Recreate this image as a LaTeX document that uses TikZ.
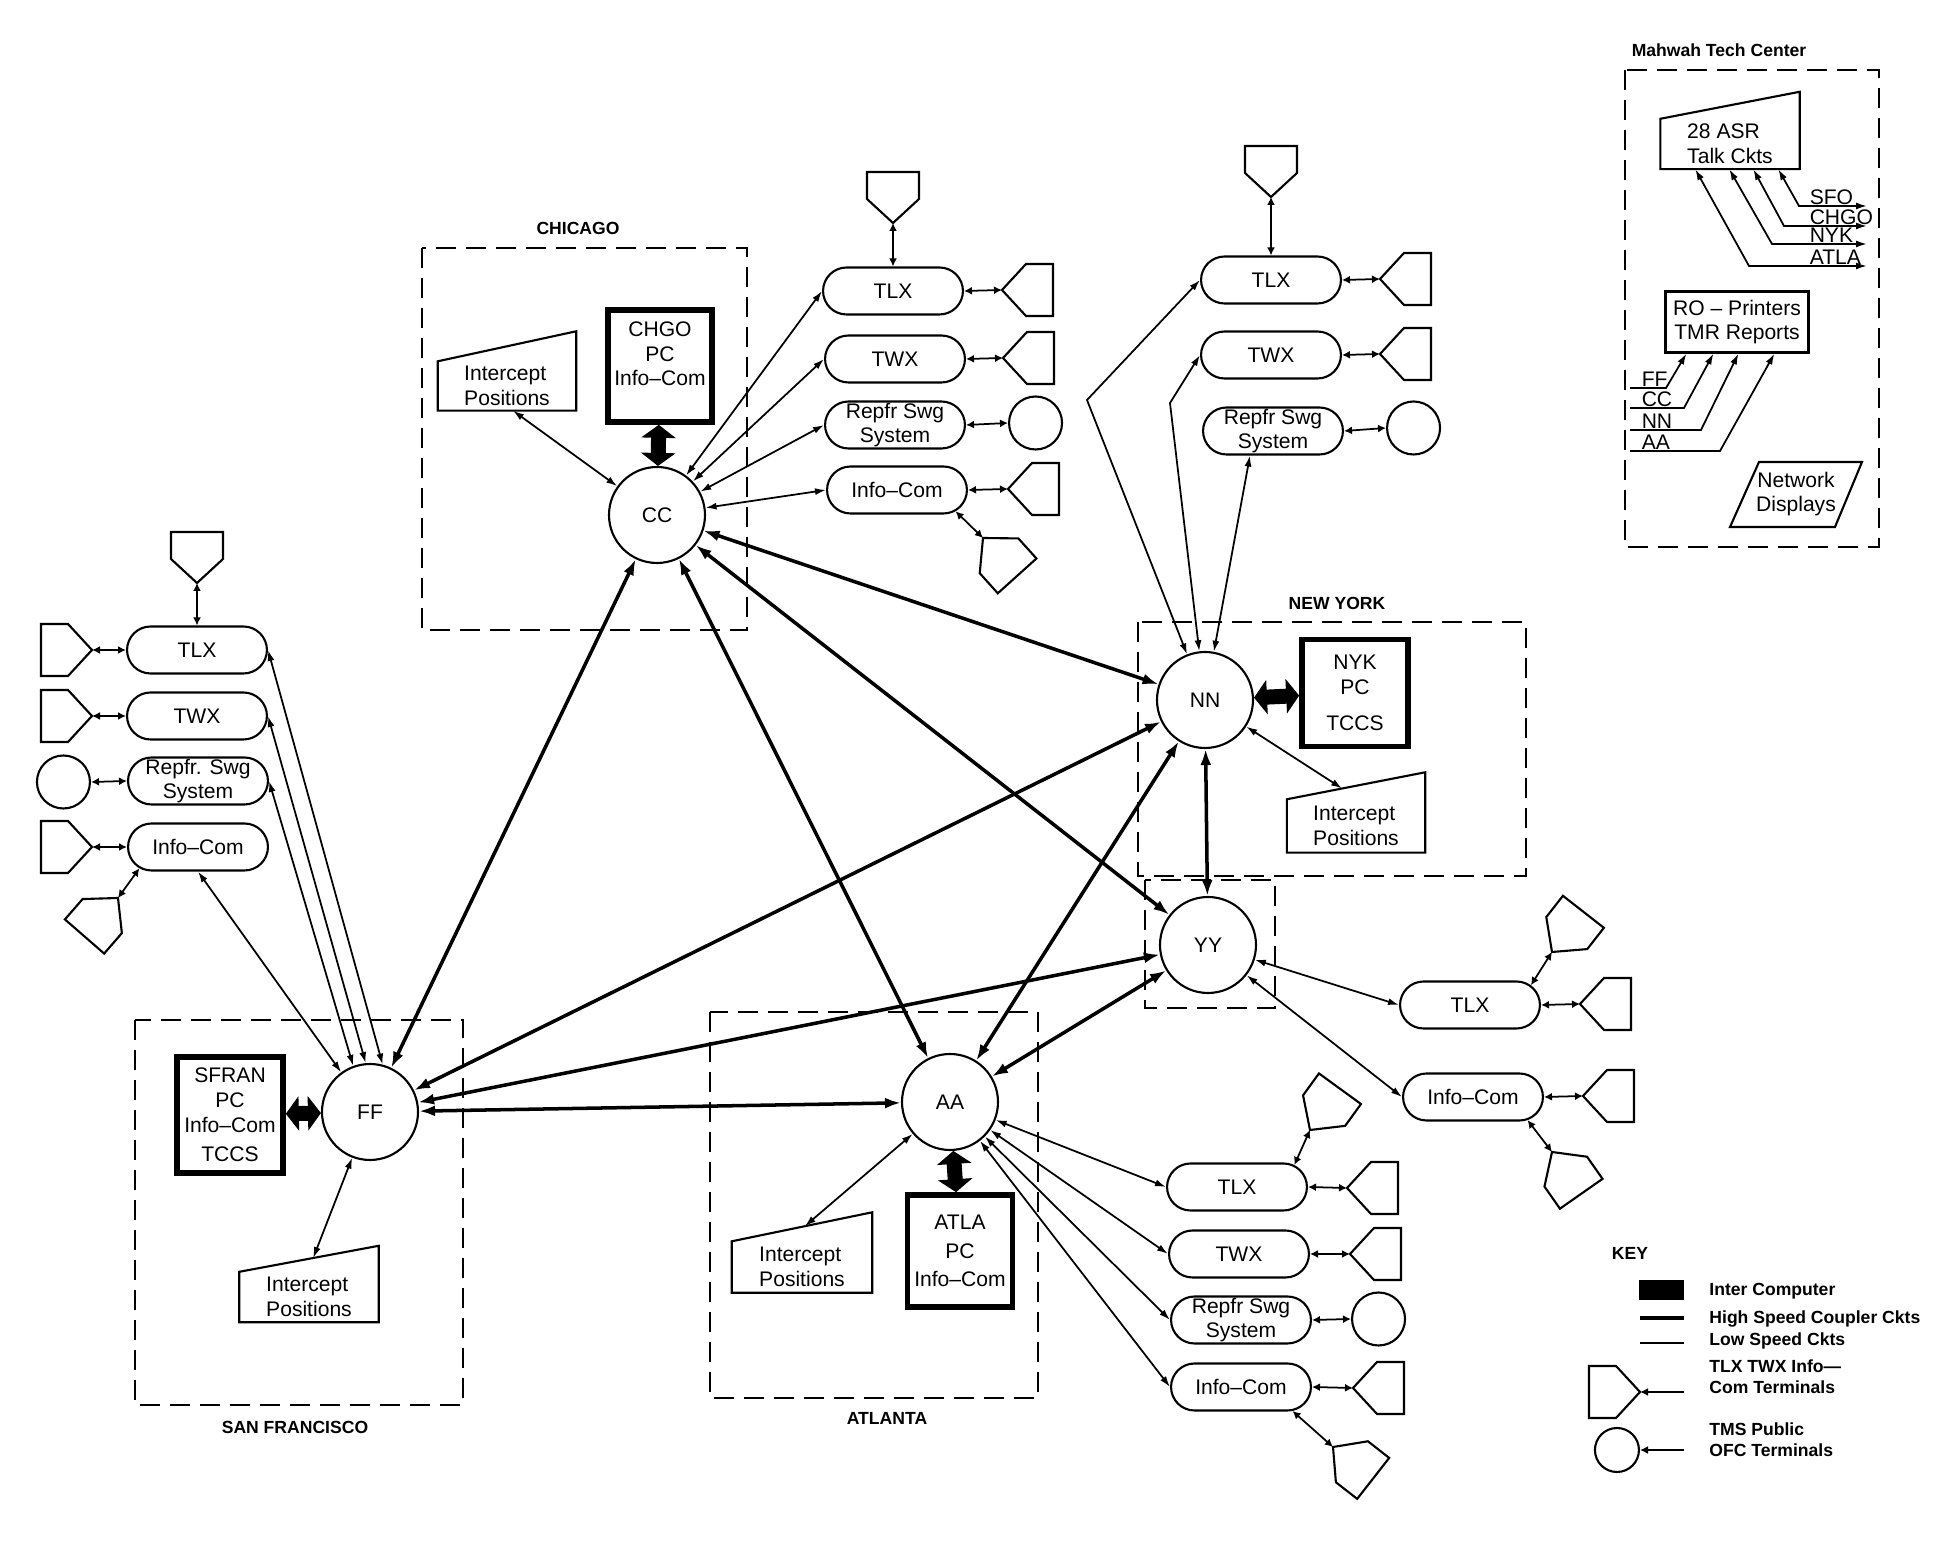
\documentclass[tikz,border=0pt]{standalone}
\usepackage{fontspec}
\setmainfont{Liberation Sans}
\usetikzlibrary{shapes.misc,arrows.meta,calc}

\newcommand\dfont{\fontsize{6}{7}\selectfont}
\newcommand\tfont{\fontsize{5}{6}\selectfont\bfseries}
\newcommand\ipdraw[2]{\draw[line width=0.6pt] (#1.south west) -- (#1.north west) -- ([yshift=#2]#1.north east) -- (#1.south east) -- cycle;}

\tikzset{
  hub/.style={circle,draw,line width=0.6pt,minimum size=9.6mm,inner sep=0pt},
  stad/.style={rounded rectangle,draw,line width=0.6pt,minimum width=14.2mm,minimum height=4.7mm,inner sep=0.3pt,align=center},
  term/.pic={
    \draw[line width=0.6pt] (0,0) -- (24,-26) -- (51,-26) -- (51,26) -- (24,26) -- cycle;
    \coordinate (-tip) at (0,0);
  },
  ofc/.style={circle,draw,line width=0.6pt,minimum size=5.3mm,inner sep=0pt,anchor=west},
  pcbox/.style={draw,line width=1.6pt,align=center,inner sep=0pt},
  ipbox/.style={align=left,inner sep=0pt},
  site/.style={draw,dash pattern=on 2mm off 1mm,line width=0.6pt},
  title/.style={font=\tfont},
  hs/.style={line width=1pt,{Latex[length=1.6mm,width=1.1mm]}-{Latex[length=1.6mm,width=1.1mm]}},
  ls/.style={line width=0.5pt,{Latex[length=1.1mm,width=0.7mm]}-{Latex[length=1.1mm,width=0.7mm]}},
  lsin/.style={line width=0.5pt,-{Latex[length=1.1mm,width=0.7mm]}},
  tie/.style={line width=0.5pt,{Latex[length=0.8mm,width=0.8mm]}-{Latex[length=0.8mm,width=0.8mm]}},
  ic/.style={line width=1.5mm,{Triangle[length=1.3mm,width=3.4mm]}-{Triangle[length=1.3mm,width=3.4mm]}}
}

\begin{document}
\begin{tikzpicture}[x=0.1mm,y=-0.1mm,every node/.append style={font=\dfont}]
  \useasboundingbox (0,0) rectangle (1960,1547);

  % sites
  \draw[site] (422,248) rectangle (747,630);
  \node[title] (chi) at (578,228) {CHICAGO};
  \draw[site] (1138,622) rectangle (1526,876);
  \node[title] (nyk) at (1337,603) {NEW YORK};
  \draw[site] (1145,880) rectangle (1275,1008);
  \draw[site] (135,1020) rectangle (463,1405);
  \node[title] (sfo) at (295,1427) {SAN FRANCISCO};
  \draw[site] (710,1012) rectangle (1038,1398);
  \node[title] (atl) at (887,1418) {ATLANTA};
  \draw[site] (1625,70) rectangle (1879,547);
  \node[title] (mtc) at (1719,50) {Mahwah Tech Center};

  % hubs
  \node[hub] (CC) at (657,515) {CC};
  \node[hub] (NN) at (1205,700) {NN};
  \node[hub] (YY) at (1208,945) {YY};
  \node[hub] (AA) at (950,1102) {AA};
  \node[hub] (FF) at (370,1112) {FF};

  % processing centres
  \node[pcbox,minimum width=10.4mm,minimum height=11.2mm] (CHGO) at (660,366) {CHGO\\PC\\Info--Com\\~};
  \node[pcbox,minimum width=10.6mm,minimum height=10.7mm] (NYK) at (1355,693) {NYK\\PC\\[1.2mm]TCCS};
  \node[pcbox,minimum width=10.6mm,minimum height=11.6mm] (SFRAN) at (230,1115) {SFRAN\\PC\\Info--Com\\[0.5mm]TCCS};
  \node[pcbox,minimum width=10.5mm,minimum height=11.2mm] (ATLA) at (960,1251) {ATLA\\[0.4mm]PC\\[0.4mm]Info--Com};
  \draw[ic] (CHGO) -- (CC);
  \draw[ic] (NN) -- (NYK);
  \draw[ic] (SFRAN) -- (FF);
  \draw[ic] (AA) -- (ATLA);

  % intercept positions
  \node[ipbox,minimum width=13.7mm,minimum height=4.8mm] (cIP) at (507,386) {Intercept\\Positions};
  \ipdraw{cIP}{3mm}
  \node[ipbox,minimum width=13.7mm,minimum height=5.2mm] (nIP) at (1356,826) {Intercept\\Positions};
  \ipdraw{nIP}{2.7mm}
  \node[ipbox,minimum width=13.9mm,minimum height=5mm] (aIP) at (802,1267) {Intercept\\Positions};
  \ipdraw{aIP}{2.9mm}
  \node[ipbox,minimum width=13.8mm,minimum height=4.9mm] (sIP) at (309,1297) {Intercept\\Positions};
  \ipdraw{sIP}{2.6mm}
  \coordinate (nIPt) at ($(nIP.north west)!0.4!([yshift=2.7mm]nIP.north east)$);
  \coordinate (aIPt) at ($(aIP.north west)!0.52!([yshift=2.9mm]aIP.north east)$);
  \coordinate (sIPt) at ($(sIP.north west)!0.53!([yshift=2.6mm]sIP.north east)$);

  % chicago terminals
  \node[stad] (cTLX) at (893,291) {TLX};
  \node[stad] (cTWX) at (895,359) {TWX};
  \node[stad] (cREP) at (895,425) {Repfr Swg\\System};
  \node[stad] (cINF) at (897,490) {Info--Com};
  \pic (cTLXa) at (1002,290) {term};
  \pic[rotate=90] (cTLXb) at (893,223) {term};
  \pic (cTWXa) at (1003,358) {term};
  \node[ofc] (cREPa) at (1008,423) {};
  \pic (cINFa) at (1008,489) {term};
  \pic[rotate=-48] (cINFb) at (983,538) {term};

  % new york terminals
  \node[stad] (nTLX) at (1271,280) {TLX};
  \node[stad] (nTWX) at (1271,355) {TWX};
  \node[stad] (nREP) at (1273,431) {Repfr Swg\\System};
  \pic (nTLXa) at (1380,279) {term};
  \pic[rotate=90] (nTLXb) at (1271,197) {term};
  \pic (nTWXa) at (1380,354) {term};
  \node[ofc] (nREPa) at (1386,428) {};

  % yy terminals
  \node[stad] (yTLX) at (1470,1005) {TLX};
  \node[stad] (yINF) at (1473,1097) {Info--Com};
  \pic (yTLXa) at (1580,1004) {term};
  \pic[rotate=52] (yTLXb) at (1552,952) {term};
  \pic (yINFa) at (1583,1096) {term};
  \pic[rotate=-55] (yINFb) at (1552,1152) {term};

  % atlanta terminals
  \node[stad] (aTLX) at (1237,1187) {TLX};
  \node[stad] (aTWX) at (1239,1254) {TWX};
  \node[stad] (aREP) at (1241,1320) {Repfr Swg\\System};
  \node[stad] (aINF) at (1241,1387) {Info--Com};
  \pic (aTLXa) at (1347,1188) {term};
  \pic[rotate=54] (aTLXb) at (1310,1130) {term};
  \pic (aTWXa) at (1350,1254) {term};
  \node[ofc] (aREPa) at (1351,1319) {};
  \pic (aINFa) at (1353,1388) {term};
  \pic[rotate=-38] (aINFb) at (1333,1447) {term};

  % san francisco terminals
  \node[stad] (sTLX) at (197,650) {TLX};
  \node[stad] (sTWX) at (197,716) {TWX};
  \node[stad] (sREP) at (198,781) {Repfr. Swg\\System};
  \node[stad] (sINF) at (198,847) {Info--Com};
  \pic[rotate=180] (sTLXa) at (92,650) {term};
  \pic[rotate=90] (sTLXb) at (197,583) {term};
  \pic[rotate=180] (sTWXa) at (92,716) {term};
  \node[ofc,anchor=east] (sREPa) at (91,782) {};
  \pic[rotate=180] (sINFa) at (92,847) {term};
  \pic[rotate=-131] (sINFb) at (118,898) {term};

  \begin{scope}[tie]
    \draw (cTLX.east) -- (cTLXa-tip);
    \draw (cTLX.north) -- (cTLXb-tip);
    \draw (cTWX.east) -- (cTWXa-tip);
    \draw (cREP.east) -- (cREPa.west);
    \draw (cINF.east) -- (cINFa-tip);
    \draw (cINF.-20) -- (cINFb-tip);
    \draw (nTLX.east) -- (nTLXa-tip);
    \draw (nTLX.north) -- (nTLXb-tip);
    \draw (nTWX.east) -- (nTWXa-tip);
    \draw (nREP.east) -- (nREPa.west);
    \draw (yTLX.east) -- (yTLXa-tip);
    \draw (yTLX.18) -- (yTLXb-tip);
    \draw (yINF.east) -- (yINFa-tip);
    \draw (yINF.-23) -- (yINFb-tip);
    \draw (aTLX.east) -- (aTLXa-tip);
    \draw (aTLX.21) -- (aTLXb-tip);
    \draw (aTWX.east) -- (aTWXa-tip);
    \draw (aREP.east) -- (aREPa.west);
    \draw (aINF.east) -- (aINFa-tip);
    \draw (aINF.-25) -- (aINFb-tip);
    \draw (sTLXa-tip) -- (sTLX.west);
    \draw (sTLX.north) -- (sTLXb-tip);
    \draw (sTWXa-tip) -- (sTWX.west);
    \draw (sREPa.east) -- (sREP.west);
    \draw (sINFa-tip) -- (sINF.west);
    \draw (sINF.-160) -- (sINFb-tip);
  \end{scope}

  % low speed circuits
  \coordinate (nb1) at (1087,400);
  \coordinate (nb2) at (1170,403);
  \begin{scope}[ls]
    \draw (CC) -- (cTLX.west);
    \draw (CC) -- (cTWX.west);
    \draw (CC) -- (cREP.west);
    \draw (CC) -- (cINF.west);
    \draw (CC) -- ([xshift=0.6mm]cIP.south);
    \draw (NN) -- (nb1) -- (nTLX.west);
    \draw (NN) -- (nb2) -- (nTWX.west);
    \draw (NN) -- ([xshift=-2.3mm]nREP.south);
    \draw (NN) -- (nIPt);
    \draw (YY) -- (yTLX.west);
    \draw (YY) -- (yINF.west);
    \draw (AA) -- (aTLX.west);
    \draw (AA) -- (aTWX.west);
    \draw (AA) -- (aREP.west);
    \draw (AA) -- (aINF.west);
    \draw (AA) -- (aIPt);
    \draw (FF.75) -- (sTLX.east);
    \draw (FF.95) -- (sTWX.east);
    \draw (FF.110) -- (sREP.east);
    \draw (FF.126) -- (sINF.south);
    \draw (FF) -- (sIPt);
  \end{scope}

  % high speed coupler circuits
  \begin{scope}[hs]
    \draw (CC) -- (FF);
    \draw (CC) -- (AA);
    \draw (CC) -- (NN);
    \draw (CC) -- (YY);
    \draw (FF) -- (NN);
    \draw (FF) -- (YY);
    \draw (FF) -- (AA);
    \draw (AA) -- (NN);
    \draw (AA) -- (YY);
    \draw (NN) -- (YY);
  \end{scope}

  % mahwah tech center
  \node[ipbox,minimum width=13.8mm,minimum height=4.9mm] (asr) at (1730,144) {28 ASR\\Talk Ckts};
  \ipdraw{asr}{2.7mm}
  \coordinate (sfoE) at (1867,206);
  \coordinate (chgoE) at (1867,226);
  \coordinate (nykE) at (1867,244);
  \coordinate (atlaE) at (1867,266);
  \draw[ls] ([xshift=3.5mm]asr.south west) -- (1749,266) -- (atlaE);
  \draw[ls] ([xshift=6.9mm]asr.south west) -- (1772,244) -- (nykE);
  \draw[ls] ([xshift=9.3mm]asr.south west) -- (1784,226) -- (chgoE);
  \draw[ls] ([xshift=11.8mm]asr.south west) -- (1799,206) -- (sfoE);
  \node[anchor=south west,inner sep=0.3pt] (lsfo) at (1808,206) {SFO};
  \node[anchor=south west,inner sep=0.3pt] (lchgo) at (1808,226) {CHGO};
  \node[anchor=south west,inner sep=0.3pt] (lnyk) at (1808,244) {NYK};
  \node[anchor=south west,inner sep=0.3pt] (latla) at (1808,266) {ATLA};

  \node[draw,line width=0.6pt,align=center,minimum width=14.3mm,minimum height=6.1mm,inner sep=0pt] (ro) at (1737,322) {RO -- Printers\\TMR Reports};
  \coordinate (ffL) at (1630,388);
  \coordinate (ccL) at (1630,408);
  \coordinate (nnL) at (1630,430);
  \coordinate (aaL) at (1630,451);
  \draw[lsin] (ffL) -- (1666,388) -- ([xshift=2.2mm]ro.south west);
  \draw[lsin] (ccL) -- (1684,408) -- ([xshift=4.9mm]ro.south west);
  \draw[lsin] (nnL) -- (1701,430) -- ([xshift=7.4mm]ro.south west);
  \draw[lsin] (aaL) -- (1720,451) -- ([xshift=11mm]ro.south west);
  \node[anchor=south west,inner sep=0.3pt] (lff) at (1640,388) {FF};
  \node[anchor=south west,inner sep=0.3pt] (lcc) at (1640,408) {CC};
  \node[anchor=south west,inner sep=0.3pt] (lnn) at (1640,430) {NN};
  \node[anchor=south west,inner sep=0.3pt] (laa) at (1640,451) {AA};

  \node[align=center] (nd) at (1796,494) {Network\\Displays};
  \draw[line width=0.6pt] (1730,527) -- (1759,462) -- (1862,462) -- (1835,527) -- cycle;

  % key
  \node[title] (key) at (1630,1253) {KEY};
  \node[fill,minimum width=4.5mm,minimum height=2mm,inner sep=0pt] (kic) at (1661,1290) {};
  \node[title,anchor=west] (lkic) at (1697,1291) {Inter Computer};
  \coordinate (khsA) at (1640,1318);
  \coordinate (khsB) at (1684,1318);
  \coordinate (klsA) at (1640,1343);
  \coordinate (klsB) at (1684,1343);
  \draw[line width=1pt] (khsA) -- (khsB);
  \draw[line width=0.5pt] (klsA) -- (klsB);
  \node[title,anchor=west,align=left] (lhs) at (1697,1330) {High Speed Coupler Ckts\\Low Speed Ckts};
  \pic[rotate=180] (kterm) at (1640,1392) {term};
  \coordinate (ktE) at (1684,1392);
  \draw[line width=0.5pt,{Latex[length=0.8mm,width=0.8mm]}-] (kterm-tip) -- (ktE);
  \node[title,anchor=west,align=left] (lterm) at (1697,1377) {TLX TWX Info---\\Com Terminals};
  \node[ofc,anchor=east,minimum size=4.4mm] (kofc) at (1640,1450) {};
  \coordinate (koE) at (1684,1450);
  \draw[line width=0.5pt,{Latex[length=0.8mm,width=0.8mm]}-] (kofc.east) -- (koE);
  \node[title,anchor=west,align=left] (lofc) at (1697,1440) {TMS Public\\OFC Terminals};
\end{tikzpicture}
\end{document}
